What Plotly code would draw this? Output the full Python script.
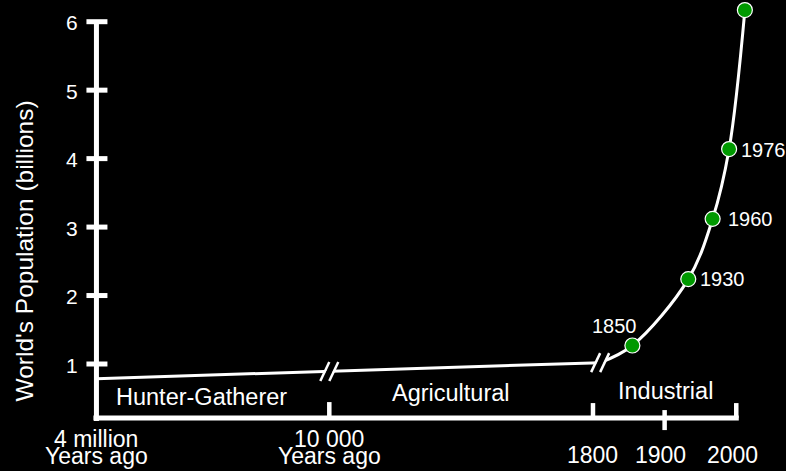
import plotly.graph_objects as go

# ---------------- data ----------------
era_names = ["Hunter-Gatherer", "Agricultural", "Industrial"]
boundary_line1 = ["4 million", "10 000", "1800", "1900", "2000"]
boundary_line2 = ["Years ago", "Years ago", "", "", ""]
y_tick_values = [1, 2, 3, 4, 5, 6]
y_tick_labels = ["1", "2", "3", "4", "5", "6"]

# pre-industrial trend: 4 million years ago -> 10 000 years ago -> c. 1810 (billions)
pre_population = [0.785, 0.89, 1.02]

# industrial era curve: positions, population in billions
ind_years = [1810, 1855, 1933, 1967, 1990, 2012]
ind_population = [1.02, 1.27, 2.24, 3.12, 4.14, 6.17]
marker_labels = ["1850", "1930", "1960", "1976", ""]

# ---------------- layout constants ----------------
FONT = "Liberation Sans, Arial, Helvetica, sans-serif"
WHITE = "#ffffff"
GREEN = "#009900"
ERA_WIDTHS = [325, 368]          # axis units for the two compressed (broken) eras
X_4MYA = 1800 - ERA_WIDTHS[1] - ERA_WIDTHS[0]
X_10K = 1800 - ERA_WIDTHS[1]
boundary_x = [X_4MYA, X_10K, 1800, 1900, 2000]
pre_x = [X_4MYA, X_10K, ind_years[0]]
AXIS_BASE = 0.21
X_RANGE = [972.4, 2069.4]
Y_RANGE = [-0.563, 6.317]

fig = go.Figure()

fig.add_trace(go.Scatter(x=pre_x, y=pre_population, mode="lines",
                         line=dict(color=WHITE, width=3), hoverinfo="skip"))
fig.add_trace(go.Scatter(x=ind_years, y=ind_population, mode="lines",
                         line=dict(color=WHITE, width=3, shape="spline", smoothing=1.0),
                         hoverinfo="skip"))
fig.add_trace(go.Scatter(x=ind_years[1:], y=ind_population[1:], mode="markers",
                         marker=dict(size=15, color=GREEN, line=dict(color=WHITE, width=1.2)),
                         hoverinfo="skip", cliponaxis=False))

shapes = []
# axes
shapes.append(dict(type="line", xref="x", yref="y", x0=X_4MYA, x1=X_4MYA,
                   y0=AXIS_BASE - 0.044, y1=6, line=dict(color=WHITE, width=5)))
shapes.append(dict(type="line", xref="x", yref="y", x0=X_4MYA - 4.2, x1=2000 + 3.5,
                   y0=AXIS_BASE, y1=AXIS_BASE, line=dict(color=WHITE, width=5)))
# y ticks
for v in y_tick_values:
    shapes.append(dict(type="line", xref="x", xsizemode="pixel", xanchor=X_4MYA,
                       x0=-10, x1=11, yref="y", y0=v, y1=v,
                       line=dict(color=WHITE, width=5)))
# x ticks (direction style per boundary)
tick_extent = [None, (0, 16), (0, 15), (-12, 8), (0, 15)]
for bx, ext in zip(boundary_x, tick_extent):
    if ext is None:
        continue
    shapes.append(dict(type="line", xref="x", x0=bx, x1=bx, yref="y", ysizemode="pixel",
                       yanchor=AXIS_BASE, y0=ext[0], y1=ext[1],
                       line=dict(color=WHITE, width=4.5)))
# axis-break marks on the curve
breaks = [(pre_x[1], pre_population[1]), (pre_x[2], pre_population[2])]
for bx, by in breaks:
    shapes.append(dict(type="line", xref="x", xsizemode="pixel", xanchor=bx, x0=-4.5, x1=4.5,
                       yref="y", ysizemode="pixel", yanchor=by, y0=-8, y1=8,
                       line=dict(color="black", width=6)))
    for c in (-4.5, 4.5):
        shapes.append(dict(type="line", xref="x", xsizemode="pixel", xanchor=bx,
                           x0=c - 4.5, x1=c + 4.5, yref="y", ysizemode="pixel",
                           yanchor=by, y0=-9.5, y1=9.5,
                           line=dict(color=WHITE, width=2.5)))

annotations = []
# y tick labels
for v, t in zip(y_tick_values, y_tick_labels):
    annotations.append(dict(x=X_4MYA, y=v, xref="x", yref="y", text=t, showarrow=False,
                            xanchor="right", yanchor="middle", xshift=-16, yshift=-1,
                            font=dict(family=FONT, size=21, color=WHITE)))
# y title
annotations.append(dict(x=X_4MYA, y=0.467, xref="x", yref="paper",
                        text="World's Population (billions)", textangle=-90,
                        showarrow=False, xanchor="center", yanchor="middle", xshift=-72,
                        font=dict(family=FONT, size=24.5, color=WHITE)))
# x boundary labels
l1_shift = [-21, -21, -37, -37, -37]
l_xshift = [0, 0, 0, -4, -3.5]
for bx, t1, t2, ys, xs in zip(boundary_x, boundary_line1, boundary_line2, l1_shift, l_xshift):
    annotations.append(dict(x=bx, y=AXIS_BASE, xref="x", yref="y", text=t1, showarrow=False,
                            xanchor="center", yanchor="middle", yshift=ys, xshift=xs,
                            font=dict(family=FONT, size=23, color=WHITE)))
    if t2:
        annotations.append(dict(x=bx, y=AXIS_BASE, xref="x", yref="y", text=t2,
                                showarrow=False, xanchor="center", yanchor="middle",
                                yshift=-38, xshift=xs,
                                font=dict(family=FONT, size=23, color=WHITE)))
# era labels
era_x = [(boundary_x[0] + boundary_x[1]) / 2, (boundary_x[1] + boundary_x[2]) / 2,
         (boundary_x[2] + boundary_x[4]) / 2]
era_xshift = [-11, -10, 1]
era_yshift = [21, 25, 27]
for name, ex, xs, ys in zip(era_names, era_x, era_xshift, era_yshift):
    annotations.append(dict(x=ex, y=AXIS_BASE, xref="x", yref="y", text=name,
                            showarrow=False, xanchor="center", yanchor="middle",
                            xshift=xs, yshift=ys,
                            font=dict(family=FONT, size=23.5, color=WHITE)))
# marker labels
lab_anchor = ["center", "left", "left", "left"]
lab_xshift = [-18, 10, 13, 10]
lab_yshift = [20, 0, 0, -1]
for yr, pop, t, xa, xs, ys in zip(ind_years[1:], ind_population[1:], marker_labels,
                                  lab_anchor, lab_xshift, lab_yshift):
    if not t:
        continue
    annotations.append(dict(x=yr, y=pop, xref="x", yref="y", text=t, showarrow=False,
                            xanchor=xa, yanchor="middle", xshift=xs, yshift=ys,
                            font=dict(family=FONT, size=20, color=WHITE)))

fig.update_layout(
    width=786, height=471, autosize=False,
    margin=dict(l=0, r=0, t=0, b=0, pad=0),
    paper_bgcolor="black", plot_bgcolor="black",
    showlegend=False,
    xaxis=dict(visible=False, range=X_RANGE, fixedrange=True),
    yaxis=dict(visible=False, range=Y_RANGE, fixedrange=True),
    shapes=shapes, annotations=annotations,
)

fig.write_html("out.html", config={"displayModeBar": False},
               post_script="document.body.style.margin='0';document.body.style.background='black';")
